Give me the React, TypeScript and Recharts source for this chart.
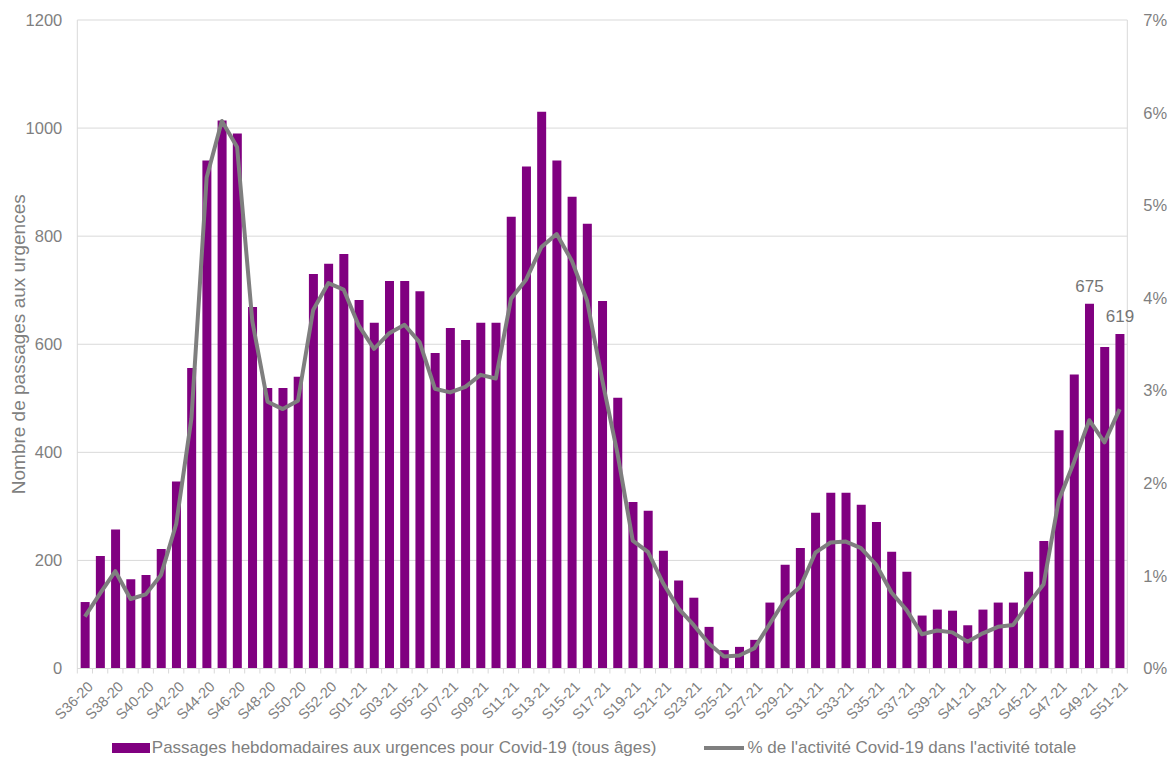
import {
  Bar,
  CartesianGrid,
  ComposedChart,
  LabelList,
  Legend,
  Line,
  XAxis,
  YAxis,
} from "recharts";

const weeks = [
  "S36-20", "S37-20", "S38-20", "S39-20", "S40-20", "S41-20", "S42-20", "S43-20",
  "S44-20", "S45-20", "S46-20", "S47-20", "S48-20", "S49-20", "S50-20", "S51-20",
  "S52-20", "S53-20", "S01-21", "S02-21", "S03-21", "S04-21", "S05-21", "S06-21",
  "S07-21", "S08-21", "S09-21", "S10-21", "S11-21", "S12-21", "S13-21", "S14-21",
  "S15-21", "S16-21", "S17-21", "S18-21", "S19-21", "S20-21", "S21-21", "S22-21",
  "S23-21", "S24-21", "S25-21", "S26-21", "S27-21", "S28-21", "S29-21", "S30-21",
  "S31-21", "S32-21", "S33-21", "S34-21", "S35-21", "S36-21", "S37-21", "S38-21",
  "S39-21", "S40-21", "S41-21", "S42-21", "S43-21", "S44-21", "S45-21", "S46-21",
  "S47-21", "S48-21", "S49-21", "S50-21", "S51-21",
];

// passages hebdomadaires aux urgences pour Covid-19
const passages = [
  123, 208, 257, 165, 173, 221, 346, 556,
  940, 1014, 990, 669, 519, 519, 540, 730,
  749, 767, 682, 640, 717, 717, 698, 584,
  630, 608, 640, 640, 836, 929, 1030, 940,
  873, 823, 680, 501, 308, 292, 218, 163,
  131, 77, 34, 40, 53, 122, 192, 223,
  288, 325, 325, 303, 271, 216, 179, 98,
  109, 107, 80, 109, 122, 122, 179, 236,
  441, 544, 675, 595, 619,
];

// % de l'activité Covid-19 dans l'activité totale
const pctActivite = [
  0.56, 0.81, 1.05, 0.75, 0.8, 1.01, 1.56, 2.7,
  5.3, 5.91, 5.63, 3.75, 2.88, 2.8, 2.89, 3.87,
  4.16, 4.09, 3.7, 3.45, 3.62, 3.71, 3.52, 3.02,
  2.98, 3.04, 3.17, 3.13, 3.99, 4.2, 4.55, 4.69,
  4.4, 3.97, 3.11, 2.32, 1.38, 1.26, 0.92, 0.65,
  0.47, 0.27, 0.13, 0.14, 0.22, 0.48, 0.74, 0.88,
  1.25, 1.36, 1.37, 1.3, 1.12, 0.82, 0.63, 0.37,
  0.41, 0.39, 0.29, 0.38, 0.45, 0.47, 0.7, 0.91,
  1.82, 2.23, 2.68, 2.44, 2.8,
];

const annotated = ["S49-21", "S51-21"];
const leftTicks = [0, 200, 400, 600, 800, 1000, 1200];
const rightTicks = [0, 1, 2, 3, 4, 5, 6, 7];

const data = weeks.map((week, i) => ({
  week,
  passages: passages[i],
  pct: pctActivite[i],
}));

const FONT = '"Liberation Sans", Arial, sans-serif';
const TEXT = "#7f7f7f";
const GRID = "#d9d9d9";
const PURPLE = "#800080";
const GREY_LINE = "#7f7f7f";

const WeekTick = (props: any) => {
  const { x, y, payload, index } = props;
  const half = payload?.offset ?? 7.6;
  const last = index === weeks.length - 1;
  const tx = x + 9;
  const ty = y + 19;
  return (
    <g>
      <line x1={x - half} x2={x - half} y1={y} y2={y + 5} stroke={GRID} />
      {last && <line x1={x + half} x2={x + half} y1={y} y2={y + 5} stroke={GRID} />}
      {index % 2 === 0 && (
        <text
          x={tx}
          y={ty}
          transform={`rotate(-45 ${tx} ${ty})`}
          textAnchor="end"
          fontSize={14.5}
          fontFamily={FONT}
          fill={TEXT}
        >
          {payload.value}
        </text>
      )}
    </g>
  );
};

const YLabel = (props: any) => {
  const vb = props.viewBox || { x: 0, y: 20, height: 648 };
  const cx = vb.x + 25;
  const cy = vb.y + vb.height / 2;
  return (
    <text
      x={cx}
      y={cy}
      transform={`rotate(-90 ${cx} ${cy})`}
      textAnchor="middle"
      fontSize={19}
      fontFamily={FONT}
      fill={TEXT}
    >
      Nombre de passages aux urgences
    </text>
  );
};

const BarValue = (props: any) => {
  const { x, y, width, value, index } = props;
  if (!annotated.includes(weeks[index])) return null;
  return (
    <text
      x={x + width / 2}
      y={y - 12}
      textAnchor="middle"
      fontSize={17}
      fontFamily={FONT}
      fill="#757575"
    >
      {value}
    </text>
  );
};

const LegendContent = () => (
  <div
    style={{
      display: "flex",
      justifyContent: "center",
      alignItems: "center",
      gap: 48,
      paddingLeft: 18,
      paddingTop: 6,
      fontFamily: FONT,
      fontSize: 17,
      color: TEXT,
      whiteSpace: "nowrap",
    }}
  >
    <span style={{ display: "flex", alignItems: "center" }}>
      <span style={{ display: "inline-block", width: 38, height: 10, background: PURPLE, marginRight: 2 }} />
      Passages hebdomadaires aux urgences pour Covid-19 (tous âges)
    </span>
    <span style={{ display: "flex", alignItems: "center" }}>
      <span style={{ display: "inline-block", width: 40, height: 4, background: GREY_LINE, marginRight: 3 }} />
      % de l'activité Covid-19 dans l'activité totale
    </span>
  </div>
);

const App = () => {
  return (
    <div style={{ width: 1170, height: 758, background: "#ffffff" }}>
      <style>{"body{margin:0}"}</style>
      <ComposedChart
        width={1170}
        height={758}
        data={data}
        margin={{ top: 20, right: 0, bottom: 0, left: 0 }}
        barCategoryGap="22%"
      >
        <CartesianGrid yAxisId="left" vertical={false} stroke={GRID} />
        <XAxis
          dataKey="week"
          interval={0}
          height={63.5}
          tickLine={false}
          tickSize={0}
          tickMargin={0}
          axisLine={{ stroke: GRID }}
          tick={<WeekTick />}
        />
        <YAxis
          yAxisId="left"
          domain={[0, 1200]}
          ticks={leftTicks}
          width={77.3}
          axisLine={{ stroke: GRID }}
          tickLine={false}
          tickMargin={9}
          tick={{ fill: TEXT, fontSize: 16.5, fontFamily: FONT }}
          label={<YLabel />}
        />
        <YAxis
          yAxisId="right"
          orientation="right"
          domain={[0, 7]}
          ticks={rightTicks}
          width={42.7}
          axisLine={{ stroke: GRID }}
          tickLine={false}
          tickMargin={10}
          tickFormatter={(v: number) => `${v}%`}
          tick={{ fill: TEXT, fontSize: 16.5, fontFamily: FONT }}
        />
        <Bar yAxisId="left" dataKey="passages" fill={PURPLE} isAnimationActive={false}>
          <LabelList dataKey="passages" content={<BarValue />} />
        </Bar>
        <Line
          yAxisId="right"
          dataKey="pct"
          stroke={GREY_LINE}
          strokeWidth={4}
          strokeLinejoin="round"
          dot={false}
          activeDot={false}
          isAnimationActive={false}
        />
        <Legend verticalAlign="bottom" height={26} content={<LegendContent />} />
      </ComposedChart>
    </div>
  );
};

export default App;
